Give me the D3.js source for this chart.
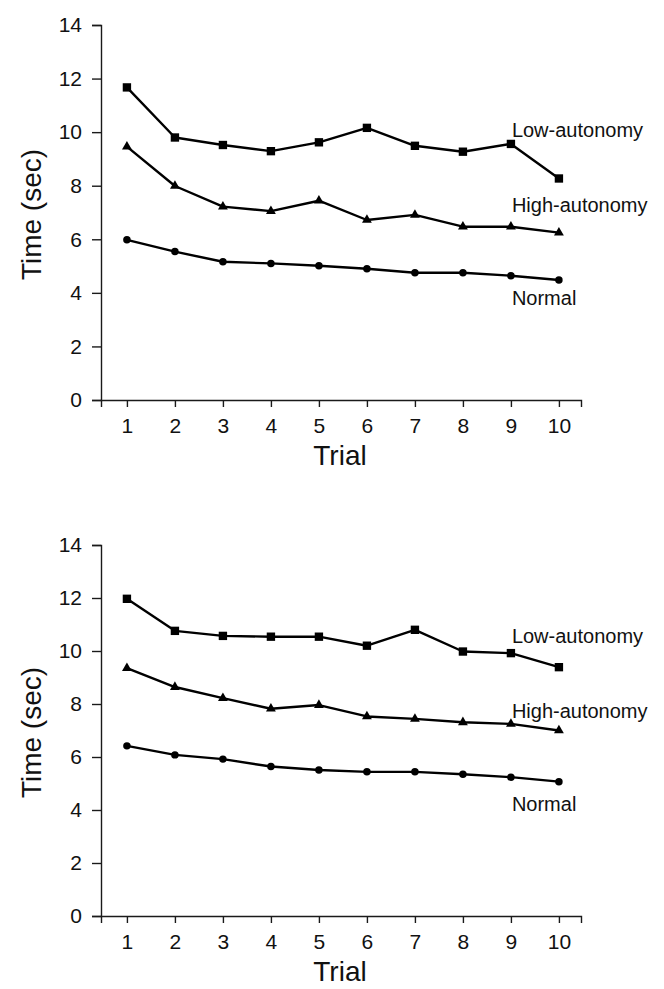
<!DOCTYPE html>
<html>
<head>
<meta charset="utf-8">
<script src="https://cdn.jsdelivr.net/npm/d3@7"></script>
<style>
  body { margin: 0; background: #fff; }
  svg { display: block; font-family: "Liberation Sans", Arial, sans-serif; }
</style>
</head>
<body>
<svg id="chart" width="664" height="989"></svg>
<script>
const trials = [1, 2, 3, 4, 5, 6, 7, 8, 9, 10];
const yTicks = [0, 2, 4, 6, 8, 10, 12, 14];
const seriesNames = ["Low-autonomy", "High-autonomy", "Normal"];
const seriesShapes = [d3.symbolSquare, d3.symbolTriangle, d3.symbolCircle];

// top panel
const topLow = [11.67, 9.8, 9.52, 9.29, 9.62, 10.16, 9.49, 9.27, 9.56, 8.27];
const topHigh = [9.46, 7.99, 7.22, 7.05, 7.44, 6.72, 6.91, 6.47, 6.47, 6.25];
const topNormal = [5.98, 5.54, 5.16, 5.1, 5.01, 4.9, 4.75, 4.75, 4.64, 4.48];
const topLabelY = [9.83, 7.02, 3.55];

// bottom panel
const botLow = [11.97, 10.76, 10.57, 10.54, 10.54, 10.2, 10.8, 9.98, 9.92, 9.39];
const botHigh = [9.35, 8.64, 8.22, 7.82, 7.96, 7.53, 7.44, 7.31, 7.25, 7.0];
const botNormal = [6.42, 6.08, 5.92, 5.64, 5.51, 5.44, 5.44, 5.35, 5.24, 5.07];
const botLabelY = [10.32, 7.49, 3.97];

const chart = d3.select("#chart");
const axisColor = "#1a1a1a";
const labelX = 9.02; // in trial units, left edge of series names

drawPanel([topLow, topHigh, topNormal], topLabelY, 25, 400);
drawPanel([botLow, botHigh, botNormal], botLabelY, 545, 916);

function drawPanel(series, labelY, top, bottom) {
    const g = chart.append("g");
    const x = d3.scaleLinear().domain([0.46, 10.46]).range([101, 581]);
    const y = d3.scaleLinear().domain([0, 14]).range([bottom, top]);

    const yAxis = g.append("g")
        .attr("transform", "translate(101,0)")
        .call(d3.axisLeft(y).tickValues(yTicks).tickSizeOuter(0).tickSize(9).tickPadding(10));
    const xAxis = g.append("g")
        .attr("transform", "translate(0," + bottom + ")")
        .call(d3.axisBottom(x).tickValues(trials).tickSizeOuter(0).tickSize(7).tickPadding(11));

    [yAxis, xAxis].forEach(a => {
        a.attr("font-size", 21).attr("font-family", "Liberation Sans, Arial, sans-serif");
        a.selectAll("path, line").attr("stroke", axisColor).attr("stroke-width", 1.4);
        a.selectAll("text").attr("fill", "#111");
    });

    g.append("text")
        .text("Trial")
        .attr("x", 340)
        .attr("y", bottom + 65)
        .attr("text-anchor", "middle")
        .attr("font-size", 28)
        .attr("fill", "#111");

    g.append("text")
        .text("Time (sec)")
        .attr("transform", "translate(41," + (y(7) + 2) + ") rotate(-90)")
        .attr("text-anchor", "middle")
        .attr("font-size", 28)
        .attr("fill", "#111");

    const line = d3.line().x((d, i) => x(trials[i])).y(d => y(d));

    series.forEach((vals, s) => {
        g.append("path")
            .datum(vals)
            .attr("d", line)
            .attr("fill", "none")
            .attr("stroke", "#000")
            .attr("stroke-width", 2.4)
            .attr("stroke-linejoin", "round");

        const size = s === 0 ? 70 : (s === 1 ? 42 : 44);
        g.selectAll(null)
            .data(vals)
            .enter()
            .append("path")
            .attr("d", d3.symbol().type(seriesShapes[s]).size(size))
            .attr("transform", (d, i) => "translate(" + x(trials[i]) + "," + y(d) + ")")
            .attr("fill", "#000");

        g.append("text")
            .text(seriesNames[s])
            .attr("x", x(labelX))
            .attr("y", y(labelY[s]))
            .attr("font-size", 20)
            .attr("fill", "#111");
    });
}
</script>
</body>
</html>
